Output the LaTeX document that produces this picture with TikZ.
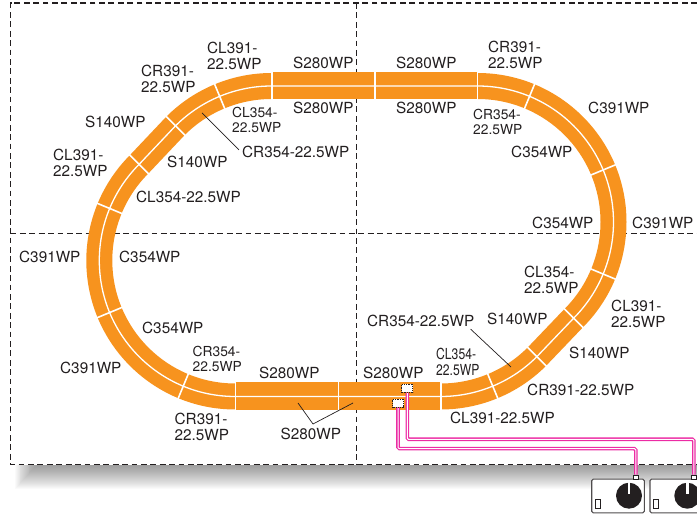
\documentclass[tikz,border=0pt]{standalone}
\usepackage{fontspec}
\setmainfont{TeX Gyre Heros}
\newfontfamily\condfont[FakeStretch=0.8]{TeX Gyre Heros}
\usetikzlibrary{calc}
\definecolor{trackorange}{HTML}{F7931E}
\definecolor{inkdark}{HTML}{231F20}
\definecolor{feederpink}{HTML}{EC2CA4}
\tikzset{
  x=1pt,y=-1pt,
  ringpath/.style={insert path={
    ($(TR)+(90:#1)$) arc[start angle=90,end angle=-45,radius=#1]
    -- ($(BR)+(-45:#1)$) arc[start angle=-45,end angle=-90,radius=#1]
    -- ($(BL)+(270:#1)$) arc[start angle=270,end angle=135,radius=#1]
    -- ($(TL)+(135:#1)$) arc[start angle=135,end angle=90,radius=#1] -- cycle}},
  lab/.style={anchor=west,inner sep=0pt,align=left,text=inkdark,font=\fontsize{15.3}{16}\selectfont},
  labs/.style={lab,font=\fontsize{13.8}{15.5}\selectfont},
  labc/.style={lab,font=\condfont\fontsize{15.2}{15.5}\selectfont},
  gridline/.style={draw=inkdark,line width=1.2pt,dash pattern=on 5.8pt off 3.6pt},
  tracksep/.style={draw=white,line width=1.6pt},
  leader/.style={draw=inkdark,line width=.7pt},
  feederbox/.style={draw=inkdark,densely dotted,line width=.8pt,fill=white,inner sep=0pt,minimum width=11pt,minimum height=8pt},
  feederouter/.style={draw=feederpink,line width=3.6pt,rounded corners=1.5pt},
  feederinner/.style={draw=white,line width=1pt,rounded corners=1.2pt},
  controller/.style={draw=inkdark!80,line width=1.1pt,fill=white,rounded corners=1.5pt,inner sep=0pt,minimum width=52.6pt,minimum height=33.7pt},
  plugbox/.style={draw=inkdark,line width=.8pt,fill=white,inner sep=0pt,minimum width=5.6pt,minimum height=4pt},
  switchbox/.style={draw=inkdark,line width=.9pt,fill=white,inner sep=0pt,minimum width=5pt,minimum height=9pt},
  knob/.style={circle,fill=inkdark,inner sep=0pt,minimum size=26pt}
}
\begin{document}
\begin{tikzpicture}
\useasboundingbox (0,0) rectangle (697,518);
\clip (0,0) rectangle (697,518);
\coordinate (TR) at (477.5,222);
\coordinate (TL) at (271.7,222);
\coordinate (BR) at (440.7,260.5);
\coordinate (BL) at (235.3,260.5);
% shadow
\foreach \i in {1,...,24}
  \fill[black,opacity=.02] ({15+0.9*(24-\i)},465) rectangle (700,{465+1*\i});
% frame
\draw[gridline] (697,3) -- (10.5,3) -- (10.5,464.5) -- (697,464.5);
\draw[gridline] (356.5,3) -- (356.5,464.5);
\draw[gridline] (10.5,233.5) -- (697,233.5);
% track
\fill[trackorange,even odd rule,ringpath=149pt,ringpath=123pt];
\fill[trackorange] (271.7,71.8) rectangle (477.5,99.5);
\fill[trackorange] (235.3,381.8) rectangle (440.7,409.8);
\draw[white,line width=1.3pt,ringpath=136pt];
\foreach \a in {67.5,22.5,-22.5,-45}
  \draw[tracksep] ($(TR)+(\a:122pt)$) -- ($(TR)+(\a:150pt)$);
\foreach \a in {-67.5,-45}
  \draw[tracksep] ($(BR)+(\a:122pt)$) -- ($(BR)+(\a:150pt)$);
\foreach \a in {112.5,135}
  \draw[tracksep] ($(TL)+(\a:122pt)$) -- ($(TL)+(\a:150pt)$);
\foreach \a in {135,157.5,202.5,247.5}
  \draw[tracksep] ($(BL)+(\a:122pt)$) -- ($(BL)+(\a:150pt)$);
\foreach \x in {271.7,375,477.5}
  \draw[tracksep] (\x,71) -- (\x,100.5);
\foreach \x in {235.3,338.3,440.7}
  \draw[tracksep] (\x,381) -- (\x,411);
% controllers
\node[controller] (ctrlA) at (618,496) {};
\node[controller] (ctrlB) at (676.3,496) {};
\node[plugbox] (plugA) at (635.8,477) {};
\node[plugbox] (plugB) at (693.8,477) {};
\node[knob] (knobA) at (629,495.7) {};
\node[knob] (knobB) at (687.3,495.7) {};
\node[switchbox] (swA) at (597.5,503.5) {};
\node[switchbox] (swB) at (655.8,503.5) {};
\fill[white] (627.6,482) rectangle (630.4,494);
\fill[white] (685.9,482) rectangle (688.7,494);
% feeders
\node[feederbox] (feedA) at (407.3,388.3) {};
\node[feederbox] (feedB) at (398,403) {};
\coordinate (busA) at (500,439.3);
\coordinate (busB) at (500,448.7);
\draw[feederouter] (feedA.south) -- (feedA.south |- busA) -- (plugB.north |- busA) -- (plugB.north);
\draw[feederinner] (feedA.south) -- (feedA.south |- busA) -- (plugB.north |- busA) -- (plugB.north);
\draw[feederouter] (feedB.south) -- (feedB.south |- busB) -- (plugA.north |- busB) -- (plugA.north);
\draw[feederinner] (feedB.south) -- (feedB.south |- busB) -- (plugA.north |- busB) -- (plugA.north);
\node[feederbox] at (feedA) {};
\node[feederbox] at (feedB) {};
% labels
\node[lab] (l01) at (207,56) {CL391-\\22.5WP};
\node[lab] (l02) at (293,63) {S280WP};
\node[lab] (l03) at (293,108) {S280WP};
\node[lab] (l04) at (141,79) {CR391-\\22.5WP};
\node[lab] (l05) at (85,122) {S140WP};
\node[labs] (l06) at (232,120) {CL354-\\22.5WP};
\node[lab] (l07) at (242,152) {CR354-22.5WP};
\node[lab] (l08) at (167,162) {S140WP};
\node[lab] (l09) at (53,163) {CL391-\\22.5WP};
\node[lab] (l10) at (136,197) {CL354-22.5WP};
\node[lab] (l11) at (19,257) {C391WP};
\node[lab] (l12) at (119,257) {C354WP};
\node[lab] (l13) at (142,328) {C354WP};
\node[lab] (l14) at (60,368) {C391WP};
\node[labs] (l15) at (192.5,359) {CR354-\\22.5WP};
\node[lab] (l16) at (259,373) {S280WP};
\node[lab] (l17) at (174.5,427) {CR391-\\22.5WP};
\node[lab] (l18) at (280.5,434) {S280WP};
\node[lab] (l19) at (363,373) {S280WP};
\node[labc] (l20) at (436,362) {CL354-\\22.5WP};
\node[lab] (l21) at (569,353) {S140WP};
\node[lab] (l22) at (527,390) {CR391-22.5WP};
\node[lab] (l23) at (450,418) {CL391-22.5WP};
\node[lab] (l24) at (396,63) {S280WP};
\node[lab] (l25) at (396,108) {S280WP};
\node[lab] (l26) at (488,55) {CR391-\\22.5WP};
\node[lab] (l27) at (588,108) {C391WP};
\node[labs] (l28) at (473,122) {CR354-\\22.5WP};
\node[lab] (l29) at (511,152) {C354WP};
\node[lab] (l30) at (532,223) {C354WP};
\node[lab] (l31) at (632,223) {C391WP};
\node[lab] (l32) at (524,280) {CL354-\\22.5WP};
\node[lab] (l33) at (611,314) {CL391-\\22.5WP};
\node[lab] (l34) at (487,319) {S140WP};
\node[lab] (l35) at (367,321) {CR354-22.5WP};
% leaders
\coordinate (tipA) at (202,113);
\coordinate (tipB) at (511,367);
\coordinate (tipC) at (298,403);
\coordinate (tipD) at (353,403);
\coordinate (apex) at (313,424);
\draw[leader] (l07.west) ++(-3,-2) -- (tipA);
\draw[leader] (l35.south east) ++(-4,2) -- (tipB);
\draw[leader] (tipC) -- (apex) -- (tipD);
\end{tikzpicture}
\end{document}
